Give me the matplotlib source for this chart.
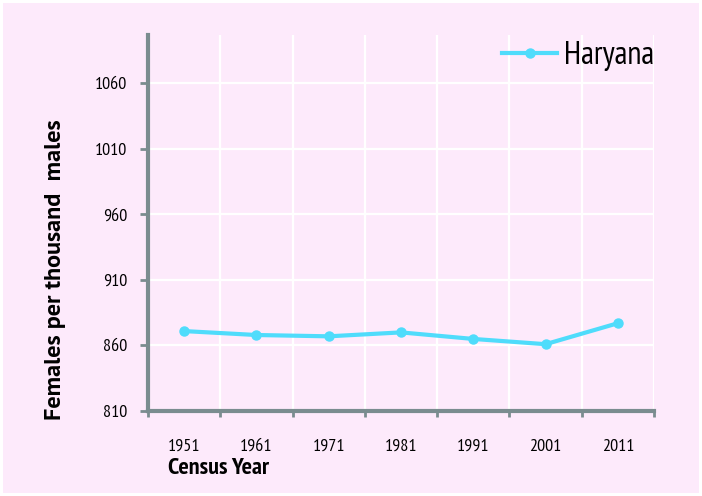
import matplotlib.pyplot as plt
import numpy as np

plt.rcParams['font.family'] = ['PT Sans Narrow', 'DejaVu Sans']

years = ['1951', '1961', '1971', '1981', '1991', '2001', '2011']
haryana = [871, 868, 867, 870, 865, 861, 877]
y_ticks = [810, 860, 910, 960, 1010, 1060]

bg = '#fdeafb'
line_col = '#4fdcfb'
axis_col = '#7a8c8f'


def main():
    fig = plt.figure(figsize=(7.02, 4.96), dpi=100, facecolor='white')
    fig.patches.append(plt.Rectangle((3 / 702, 3 / 496), 696 / 702, 490 / 496,
                                     transform=fig.transFigure, facecolor=bg,
                                     edgecolor='none', zorder=-10))
    ax = fig.add_axes([148 / 702, 1 - 411 / 496, (654 - 148) / 702, (411 - 35) / 496])
    ax.set_facecolor(bg)

    x = np.arange(len(years))
    ax.plot(x, haryana, color=line_col, lw=3, marker='o', ms=6.5,
            label='Haryana', zorder=3)

    ax.set_xlim(-0.5, len(years) - 0.5)
    ax.set_ylim(810, 1097)
    ax.set_yticks(y_ticks)
    ax.set_yticklabels([str(v) for v in y_ticks], fontsize=13)
    ax.set_xticks(x)
    ax.set_xticklabels(years, fontsize=13)
    ax.set_xticks(np.arange(-0.5, len(years)), minor=True)
    ax.tick_params(axis='x', which='major', length=0, pad=20)
    ax.tick_params(axis='x', which='minor', length=4, width=2, color=axis_col, direction='out')
    ax.tick_params(axis='y', length=6, width=2, color=axis_col, pad=9)

    ax.grid(True, axis='y', color='white', lw=1.6)
    ax.grid(True, axis='x', which='minor', color='white', lw=1.6)
    ax.set_axisbelow(True)

    for s in ['top', 'right']:
        ax.spines[s].set_visible(False)
    for s in ['left', 'bottom']:
        ax.spines[s].set_color(axis_col)
        ax.spines[s].set_linewidth(3)

    fig.text(56 / 702, 1 - 270 / 496, 'Females per thousand  males', fontsize=17.5,
             fontweight='bold', family=['PT Sans', 'DejaVu Sans'],
             rotation=90, ha='center', va='center')
    fig.text(168 / 702, 1 - 468 / 496, 'Census Year', fontsize=17.5, fontweight='bold',
             va='center', ha='left')

    ax.legend(loc='upper right', frameon=False, fontsize=23,
              handlelength=1.75, borderaxespad=0.0, handletextpad=0.2,
              borderpad=0.0, bbox_to_anchor=(1.0, 0.983))

    fig.savefig('out.png', dpi=100, facecolor=fig.get_facecolor())


if __name__ == '__main__':
    main()
